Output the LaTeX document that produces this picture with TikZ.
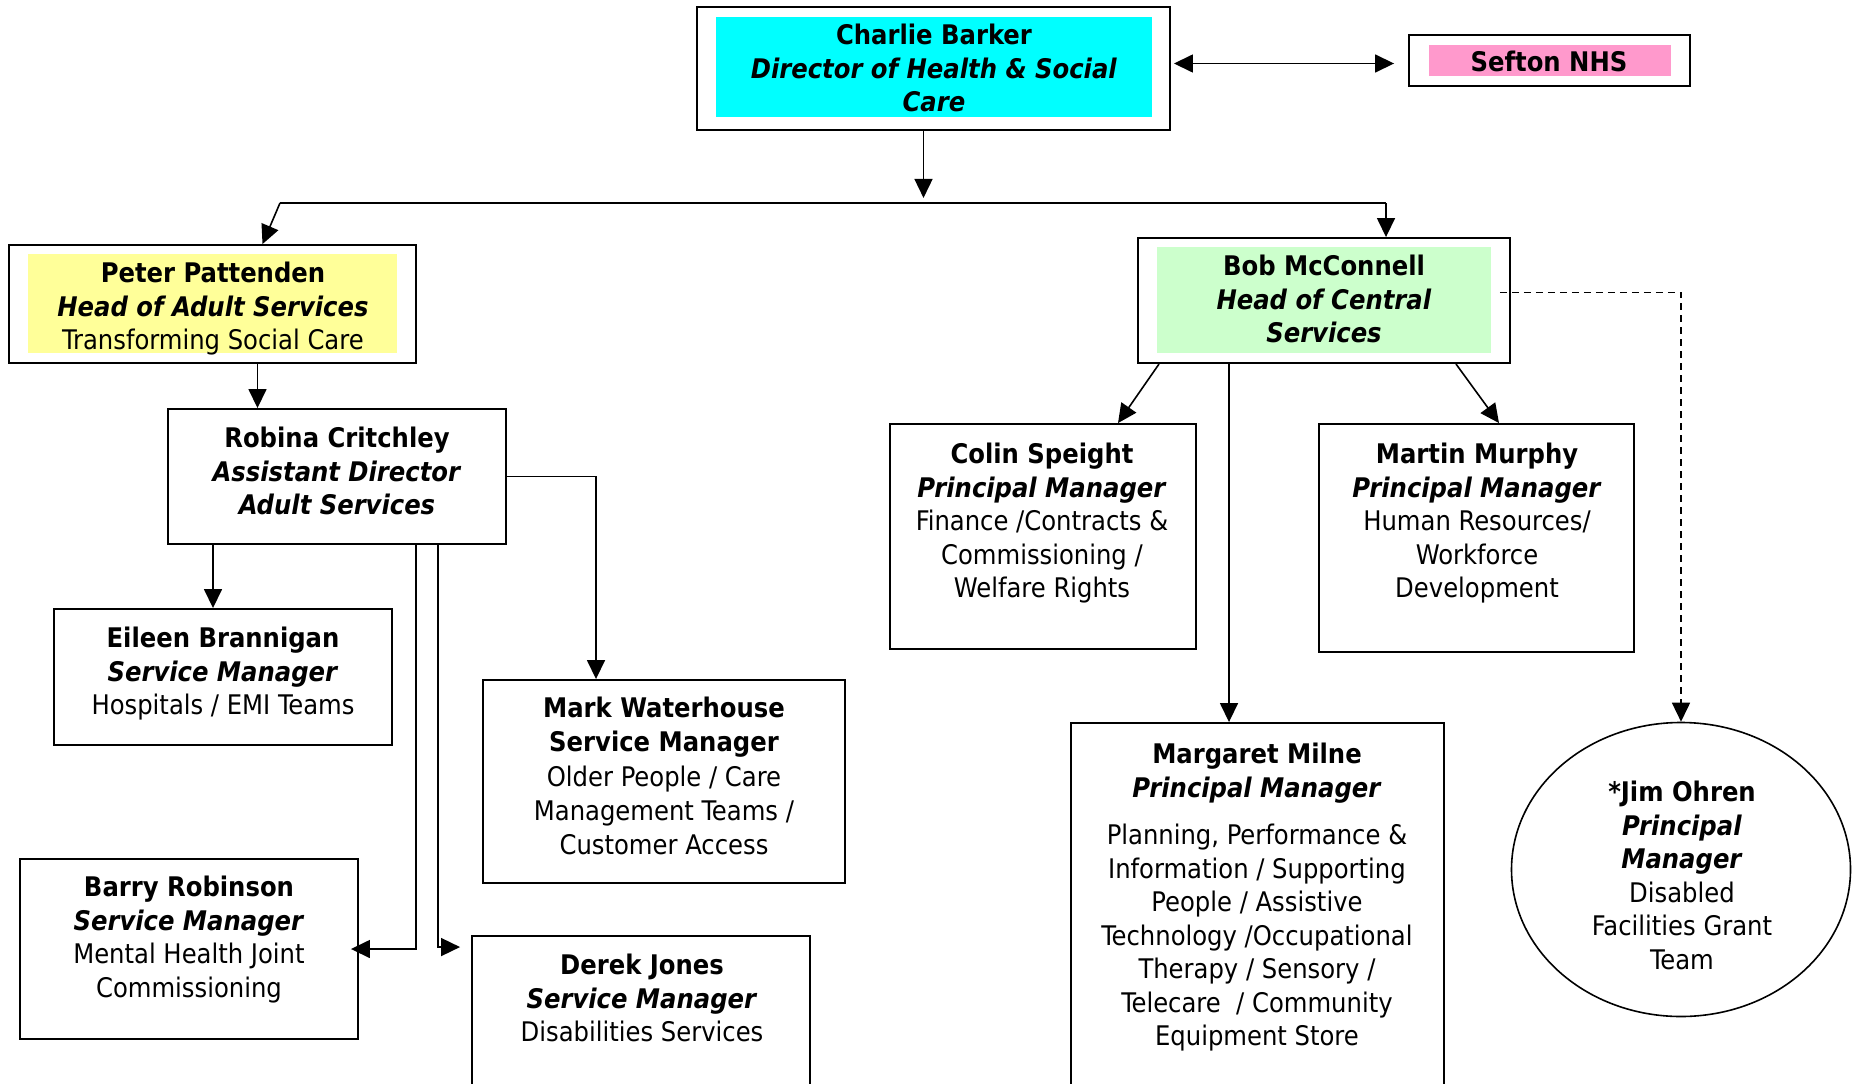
\documentclass[tikz,border=0pt]{standalone}
\usepackage{fontspec}
\setmainfont{DejaVu Sans Condensed}[BoldFont={DejaVu Sans Condensed Bold},ItalicFont={DejaVu Sans Condensed Oblique},BoldItalicFont={DejaVu Sans Condensed Bold Oblique}]
\usetikzlibrary{arrows.meta,shapes.geometric,calc}
\definecolor{cCyan}{HTML}{00FFFF}
\definecolor{cPink}{HTML}{FF99CC}
\definecolor{cYellow}{HTML}{FFFF99}
\definecolor{cGreen}{HTML}{CCFFCC}
\tikzset{
  box/.style={draw, line width=1.9pt, fill=white, inner sep=0pt},
  inbox/.style={fill=#1, inner sep=0pt},
  txt/.style={anchor=north, align=center, inner sep=0pt, font=\fontsize{27}{33.5}\selectfont},
  conn/.style={line width=1.6pt},
  arr/.style={line width=1.6pt, -{Triangle[length=19pt,width=18pt]}},
  arrB/.style={line width=1.6pt, {Triangle[length=19pt,width=18pt]}-{Triangle[length=19pt,width=18pt]}},
}
\begin{document}
\begin{tikzpicture}[x=1pt,y=-1pt]
\useasboundingbox (0,0) rectangle (1853,1084);
\clip (0,0) rectangle (1853,1084);
\fill[white] (0,0) rectangle (1853,1084);
% boxes
\node[box, minimum width=473pt, minimum height=123pt] (charlie) at (933.5,68.5) {};
\node[inbox=cCyan, minimum width=436pt, minimum height=100pt] (charlieIn) at (934,67) {};
\node[txt] (charlieT) at (934,24) {\textbf{Charlie Barker}\\\textbf{\textit{Director of Health \& Social}}\\\textbf{\textit{Care}}};

\node[box, minimum width=281pt, minimum height=51pt] (sefton) at (1549.5,60.5) {};
\node[inbox=cPink, minimum width=242pt, minimum height=31pt] (seftonIn) at (1550,60.5) {};
\node[txt, anchor=center] (seftonT) at (1549,61) {\textbf{Sefton NHS}};

\node[box, minimum width=407pt, minimum height=118pt] (peter) at (212.5,304) {};
\node[inbox=cYellow, minimum width=369pt, minimum height=99pt] (peterIn) at (212.5,303.5) {};
\node[txt] (peterT) at (213,262) {\textbf{Peter Pattenden}\\\textbf{\textit{Head of Adult Services}}\\Transforming Social Care};

\node[box, minimum width=338pt, minimum height=135pt] (robina) at (337,476.5) {};
\node[txt] (robinaT) at (337,427) {\textbf{Robina Critchley}\\\textbf{\textit{Assistant Director}}\\\textbf{\textit{Adult Services}}};

\node[box, minimum width=338pt, minimum height=136pt] (eileen) at (223,677) {};
\node[txt] (eileenT) at (223,627) {\textbf{Eileen Brannigan}\\\textbf{\textit{Service Manager}}\\Hospitals / EMI Teams};

\node[box, minimum width=362pt, minimum height=203pt] (mark) at (664,781.5) {};
\node[txt, font=\fontsize{27}{34.2}\selectfont] (markT) at (664,697) {\textbf{Mark Waterhouse}\\\textbf{Service Manager}\\Older People / Care\\Management Teams /\\Customer Access};

\node[box, minimum width=338pt, minimum height=180pt] (barry) at (189,949) {};
\node[txt] (barryT) at (189,876) {\textbf{Barry Robinson}\\\textbf{\textit{Service Manager}}\\Mental Health Joint\\Commissioning};

\node[box, minimum width=338pt, minimum height=164pt] (derek) at (641,1018) {};
\node[txt] (derekT) at (642,954) {\textbf{Derek Jones}\\\textbf{\textit{Service Manager}}\\Disabilities Services};

\node[box, minimum width=372pt, minimum height=125pt] (bob) at (1324,300.5) {};
\node[inbox=cGreen, minimum width=334pt, minimum height=106pt] (bobIn) at (1324,300) {};
\node[txt] (bobT) at (1324,255) {\textbf{Bob McConnell}\\\textbf{\textit{Head of Central}}\\\textbf{\textit{Services}}};

\node[box, minimum width=306pt, minimum height=225pt] (colin) at (1043,536.5) {};
\node[txt] (colinT) at (1042,443) {\textbf{Colin Speight}\\\textbf{\textit{Principal Manager}}\\Finance /Contracts \&\\Commissioning /\\Welfare Rights};

\node[box, minimum width=315pt, minimum height=228pt] (martin) at (1476.5,538) {};
\node[txt] (martinT) at (1477,443) {\textbf{Martin Murphy}\\\textbf{\textit{Principal Manager}}\\Human Resources/\\Workforce\\Development};

\node[box, minimum width=373pt, minimum height=377pt] (margaret) at (1257.5,911.5) {};
\node[txt] (margaretT) at (1257,743) {\textbf{Margaret Milne}\\\textbf{\textit{Principal Manager}}\\[14pt]Planning, Performance \&\\Information / Supporting\\People / Assistive\\Technology /Occupational\\Therapy / Sensory /\\Telecare\ \ / Community\\Equipment Store};

\node[box, ellipse, line width=1.6pt, minimum width=339pt, minimum height=294pt] (jim) at (1681,869.5) {};
\node[txt] (jimT) at (1682,781) {\textbf{*Jim Ohren}\\\textbf{\textit{Principal}}\\\textbf{\textit{Manager}}\\Disabled\\Facilities Grant\\Team};

% connectors
\draw[arrB] ($(charlie.east)+(3,-5)$) -- ($(sefton.west)+(-14,3)$);
\coordinate (bl) at (280,203);
\coordinate (br) at (1386,203);
\draw[arr] ([xshift=-10]charlie.south) -- ([xshift=-10,yshift=-67]charlie.south);
\draw[conn] (bl) -- (br);
\draw[arr] (bl) -- ([xshift=50]peter.north);
\draw[arr] (br) -- ([xshift=62]bob.north);
\draw[arr] ([xshift=45]peter.south) -- ([xshift=45]peter.south |- robina.north);
\draw[arr] ([xshift=-124]robina.south) -- ([xshift=-124]robina.south |- eileen.north);
\draw[arr] (robina.east) -| ([xshift=-68]mark.north);
\draw[arr] ([xshift=79]robina.south) |- ([xshift=-8]barry.east);
\draw[arr] ([xshift=101]robina.south) |- ([xshift=-11,yshift=-12]derek.north west);
\draw[arr] ([xshift=22]bob.south west) -- ([xshift=75]colin.north);
\draw[arr] ([xshift=-55]bob.south east) -- ([xshift=22.5]martin.north);
\draw[arr] ([xshift=-95]bob.south) -- ([xshift=-95]bob.south |- margaret.north);
\draw[arr, dash pattern=on 7pt off 5pt] ([xshift=-11,yshift=8]bob.east) -| (jim.north);
\end{tikzpicture}
\end{document}
